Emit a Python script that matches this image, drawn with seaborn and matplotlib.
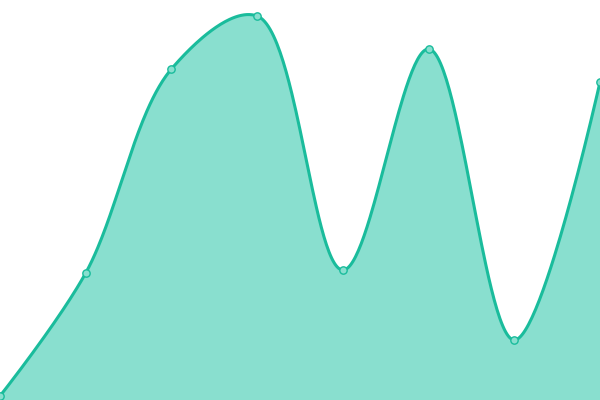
import numpy as np
import matplotlib
matplotlib.use("Agg")
import matplotlib.pyplot as plt
import seaborn as sns

# data points (x index, value)
xs = [0, 1, 2, 3, 4, 5, 6, 7]
values = [4, 127, 331, 384, 130, 351, 60, 318]

line_color = "#1abc9c"
fill_color = "#89dfcf"


def catmull_rom(x, y, alpha=0.5, sx=600 / 7, n=60):
    # centripetal catmull-rom through the points, built as cubic beziers
    P = np.column_stack([np.asarray(x, float) * sx, np.asarray(y, float)])
    pts = []
    for i in range(len(P) - 1):
        p1, p2 = P[i], P[i + 1]
        c1, c2 = p1.copy(), p2.copy()
        l12 = np.linalg.norm(p2 - p1)
        if i > 0:
            p0 = P[i - 1]
            l01 = np.linalg.norm(p1 - p0)
            a = 2 * l01 ** (2 * alpha) + 3 * l01 ** alpha * l12 ** alpha + l12 ** (2 * alpha)
            m = 3 * l01 ** alpha * (l01 ** alpha + l12 ** alpha)
            c1 = (p1 * a - p0 * l12 ** (2 * alpha) + p2 * l01 ** (2 * alpha)) / m
        if i < len(P) - 2:
            p3 = P[i + 2]
            l23 = np.linalg.norm(p3 - p2)
            b = 2 * l23 ** (2 * alpha) + 3 * l23 ** alpha * l12 ** alpha + l12 ** (2 * alpha)
            m = 3 * l23 ** alpha * (l23 ** alpha + l12 ** alpha)
            c2 = (p2 * b + p1 * l23 ** (2 * alpha) - p3 * l12 ** (2 * alpha)) / m
        t = np.linspace(0, 1, n, endpoint=False)[:, None]
        seg = ((1 - t) ** 3 * p1 + 3 * (1 - t) ** 2 * t * c1
               + 3 * (1 - t) * t ** 2 * c2 + t ** 3 * p2)
        pts.append(seg)
    pts.append(P[-1:])
    pts = np.vstack(pts)
    return pts[:, 0] / sx, pts[:, 1]


sns.set_style("white")
fig = plt.figure(figsize=(6, 4), dpi=100)
ax = fig.add_axes([0, 0, 1, 1])

cx, cy = catmull_rom(xs, values)
ax.fill_between(cx, cy, 0, color=fill_color, linewidth=0)
sns.lineplot(x=cx, y=cy, ax=ax, color=line_color, linewidth=2.2, sort=False)
sns.scatterplot(x=xs, y=values, ax=ax, s=28, color=fill_color,
                edgecolor=line_color, linewidth=1.0, zorder=5, clip_on=False)

ax.set_xlim(0, 7)
ax.set_ylim(0, 400)
ax.axis("off")

plt.savefig("out.png", dpi=100)
